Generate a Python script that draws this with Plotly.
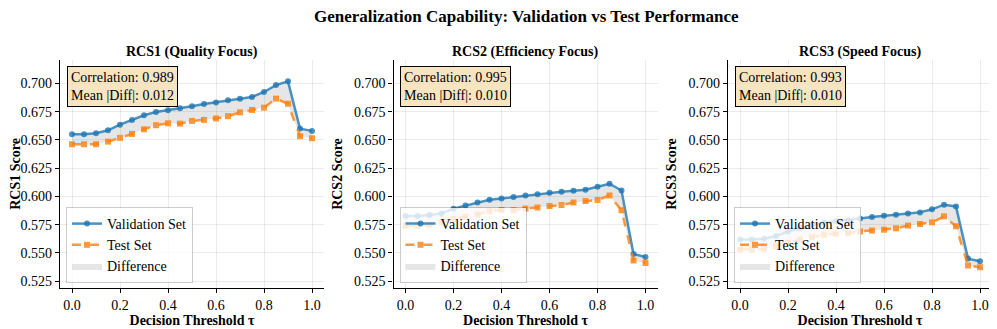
import plotly.graph_objects as go

# thresholds tau
tau = [0.0, 0.05, 0.1, 0.15, 0.2, 0.25, 0.3, 0.35, 0.4, 0.45, 0.5,
       0.55, 0.6, 0.65, 0.7, 0.75, 0.8, 0.85, 0.9, 0.95, 1.0]

rcs1_val = [0.655, 0.655, 0.656, 0.6585, 0.6635, 0.6676, 0.6718, 0.6747, 0.6762, 0.678, 0.6797,
            0.6818, 0.6832, 0.685, 0.6865, 0.688, 0.6924, 0.6985, 0.7018, 0.660, 0.658]
rcs1_test = [0.6462, 0.6462, 0.6462, 0.6485, 0.6518, 0.6553, 0.6594, 0.663, 0.6647, 0.6644, 0.6668,
             0.6677, 0.669, 0.671, 0.6744, 0.6765, 0.6785, 0.6865, 0.682, 0.6533, 0.6515]

rcs2_val = [0.5827, 0.5827, 0.5836, 0.585, 0.5892, 0.592, 0.5947, 0.597, 0.5982, 0.5994, 0.6009,
            0.602, 0.6033, 0.6042, 0.605, 0.606, 0.6086, 0.6112, 0.6053, 0.549, 0.5465]
rcs2_test = [0.574, 0.574, 0.575, 0.577, 0.580, 0.582, 0.5841, 0.5868, 0.588, 0.5877, 0.5894,
             0.5903, 0.5915, 0.5924, 0.5947, 0.5959, 0.5968, 0.6009, 0.5877, 0.5433, 0.5412]

rcs3_val = [0.5618, 0.5618, 0.5625, 0.565, 0.569, 0.572, 0.575, 0.577, 0.578, 0.579, 0.5805,
            0.5818, 0.583, 0.5839, 0.585, 0.5859, 0.5886, 0.5927, 0.5912, 0.545, 0.5427]
rcs3_test = [0.553, 0.553, 0.5535, 0.556, 0.559, 0.562, 0.564, 0.566, 0.567, 0.5675, 0.569,
             0.5698, 0.5706, 0.5718, 0.5742, 0.5756, 0.5771, 0.5824, 0.5736, 0.5389, 0.5374]

panel_titles = ["RCS1 (Quality Focus)", "RCS2 (Efficiency Focus)", "RCS3 (Speed Focus)"]
y_titles = ["RCS1 Score", "RCS2 Score", "RCS3 Score"]
correlations = ["0.989", "0.995", "0.993"]
mean_diffs = ["0.012", "0.010", "0.010"]

vals = [rcs1_val, rcs2_val, rcs3_val]
tests = [rcs1_test, rcs2_test, rcs3_test]

FONT = "Liberation Serif, Times New Roman, serif"
BLUE = "rgba(31,119,180,0.8)"
ORANGE = "rgba(255,127,14,0.8)"
FILL = "rgba(128,128,128,0.2)"

# the page body adds an 8px margin, so the figure is 8px smaller and shifted
W, H = 989, 321
ML, MR, MT, MB = 52, 5, 52, 41
pw = W - ML - MR
ph = H - MT - MB
# panel left edges / width in pixels (figure coords)
lefts = [52, 385.5, 720]
width = 264
domains = [[(l - ML) / pw, min(1.0, (l - ML + width) / pw)] for l in lefts]

fig = go.Figure()
layout = dict(
    width=W, height=H,
    margin=dict(l=ML, r=MR, t=MT, b=MB),
    plot_bgcolor="white", paper_bgcolor="white",
    font=dict(family=FONT, size=14, color="black"),
    annotations=[],
)

for i in range(3):
    sfx = "" if i == 0 else str(i + 1)
    xa, ya = "x" + sfx, "y" + sfx
    leg = "legend" + sfx
    # fill between curves
    fig.add_trace(go.Scatter(x=tau, y=tests[i], mode="lines", line=dict(width=0),
                             showlegend=False, hoverinfo="skip", xaxis=xa, yaxis=ya))
    fig.add_trace(go.Scatter(x=tau, y=vals[i], mode="lines", line=dict(width=0),
                             fill="tonexty", fillcolor=FILL, name="Difference",
                             legend=leg, legendrank=3, xaxis=xa, yaxis=ya))
    fig.add_trace(go.Scatter(x=tau, y=vals[i], mode="lines+markers", name="Validation Set",
                             line=dict(color=BLUE, width=2.5),
                             marker=dict(symbol="circle", size=6, color=BLUE),
                             legend=leg, legendrank=1, xaxis=xa, yaxis=ya))
    fig.add_trace(go.Scatter(x=tau, y=tests[i], mode="lines+markers", name="Test Set",
                             line=dict(color=ORANGE, width=2.5, dash="dash"),
                             marker=dict(symbol="square", size=6, color=ORANGE),
                             legend=leg, legendrank=2, xaxis=xa, yaxis=ya))

    layout["xaxis" + sfx] = dict(
        domain=domains[i], anchor=ya, range=[-0.05, 1.05], automargin=False,
        tickvals=[0, 0.2, 0.4, 0.6, 0.8, 1.0], tickformat=".1f",
        showgrid=True, gridcolor="rgba(0,0,0,0.08)", gridwidth=1,
        showline=True, linecolor="black", linewidth=1.2, ticks="outside",
        ticklen=4, tickcolor="black", zeroline=False,
        title=dict(text="<b>Decision Threshold τ</b>", font=dict(size=14), standoff=0),
    )
    layout["yaxis" + sfx] = dict(
        domain=[0, 1], anchor=xa, range=[0.519, 0.7207], automargin=False,
        tickvals=[0.525, 0.55, 0.575, 0.6, 0.625, 0.65, 0.675, 0.7], tickformat=".3f",
        showgrid=True, gridcolor="rgba(0,0,0,0.08)", gridwidth=1,
        showline=True, linecolor="black", linewidth=1.2, ticks="outside",
        ticklen=4, tickcolor="black", zeroline=False,
        title=dict(text="<b>%s</b>" % y_titles[i], font=dict(size=14), standoff=8),
    )
    layout[leg] = dict(
        x=domains[i][0] + 6 / pw, y=5 / ph, xanchor="left", yanchor="bottom",
        bgcolor="rgba(255,255,255,0.8)", bordercolor="rgba(0,0,0,0.2)", borderwidth=1,
        font=dict(size=14), tracegroupgap=0, itemwidth=30, traceorder="normal",
    )
    layout["annotations"].append(dict(
        text="<b>%s</b>" % panel_titles[i], xref="paper", yref="paper",
        x=(domains[i][0] + domains[i][1]) / 2, y=1 + 8 / ph,
        xanchor="center", yanchor="middle", showarrow=False, font=dict(size=14),
    ))
    layout["annotations"].append(dict(
        text="Correlation: %s<br>Mean |Diff|: %s" % (correlations[i], mean_diffs[i]),
        xref=xa + " domain", yref=ya + " domain", x=0.025, y=0.974,
        xanchor="left", yanchor="top", showarrow=False, align="left",
        bgcolor="rgba(245,222,179,0.8)", bordercolor="black", borderwidth=1, borderpad=3,
        font=dict(size=14),
    ))

layout["annotations"].append(dict(
    text="<b>Generalization Capability: Validation vs Test Performance</b>",
    xref="paper", yref="paper", x=0.5, y=1 + 43 / ph, xanchor="center", yanchor="middle",
    showarrow=False, font=dict(size=17),
))

fig.update_layout(**layout)
fig.write_html("out.html")
